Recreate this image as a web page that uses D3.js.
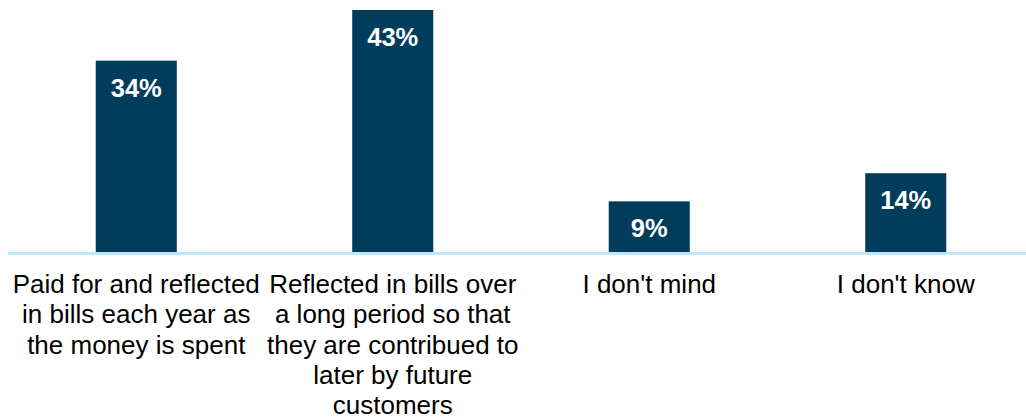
<!DOCTYPE html>
<html>
<head>
<meta charset="utf-8">
<script src="https://cdn.jsdelivr.net/npm/d3@7"></script>
<style>
  body { margin: 0; background: #fff; }
  svg { display: block; }
</style>
</head>
<body>
<div id="chart"></div>
<script>
// data
var categories = [
  "Paid for and reflected\nin bills each year as\nthe money is spent",
  "Reflected in bills over\na long period so that\nthey are contribued to\nlater by future\ncustomers",
  "I don't mind",
  "I don't know"
];
var values = [34, 43, 9, 14];

var width = 1026, height = 419;
var baseline = 252;

var svg = d3.select("#chart")
  .append("svg")
  .attr("width", width)
  .attr("height", height);

var x = d3.scaleBand()
  .domain(categories)
  .range([8, 1034])
  .paddingInner(0.684)
  .paddingOuter(0.342);

var y = d3.scaleLinear()
  .domain([0, 43])
  .range([baseline, 10]);

// bars
svg.selectAll("rect.bar")
  .data(values)
  .enter()
  .append("rect")
  .attr("class", "bar")
  .attr("x", function (d, i) { return x(categories[i]); })
  .attr("y", function (d) { return y(d); })
  .attr("width", x.bandwidth())
  .attr("height", function (d) { return baseline - y(d); })
  .attr("fill", "#003d5c");

// value labels inside bars
svg.selectAll("text.val")
  .data(values)
  .enter()
  .append("text")
  .attr("class", "val")
  .attr("x", function (d, i) { return x(categories[i]) + x.bandwidth() / 2; })
  .attr("y", function (d) { return y(d) + 36; })
  .attr("text-anchor", "middle")
  .attr("fill", "#fff")
  .style("font-family", "'Liberation Sans', Arial, sans-serif")
  .style("font-weight", "bold")
  .style("font-size", "25.5px")
  .text(function (d) { return d + "%"; });

// axis line
svg.append("line")
  .attr("x1", 8)
  .attr("x2", width)
  .attr("y1", baseline + 1.5)
  .attr("y2", baseline + 1.5)
  .attr("stroke", "#bde6f8")
  .attr("stroke-width", 3);

// category labels
var lab = svg.selectAll("text.cat")
  .data(categories)
  .enter()
  .append("text")
  .attr("class", "cat")
  .attr("text-anchor", "middle")
  .attr("fill", "#000")
  .style("font-family", "'Liberation Sans', Arial, sans-serif")
  .style("font-size", "26px");

lab.each(function (d) {
  var t = d3.select(this);
  var cx = x(d) + x.bandwidth() / 2;
  d.split("\n").forEach(function (line, j) {
    t.append("tspan")
      .attr("x", cx)
      .attr("y", 293 + j * 30.3)
      .text(line);
  });
});
</script>
</body>
</html>
